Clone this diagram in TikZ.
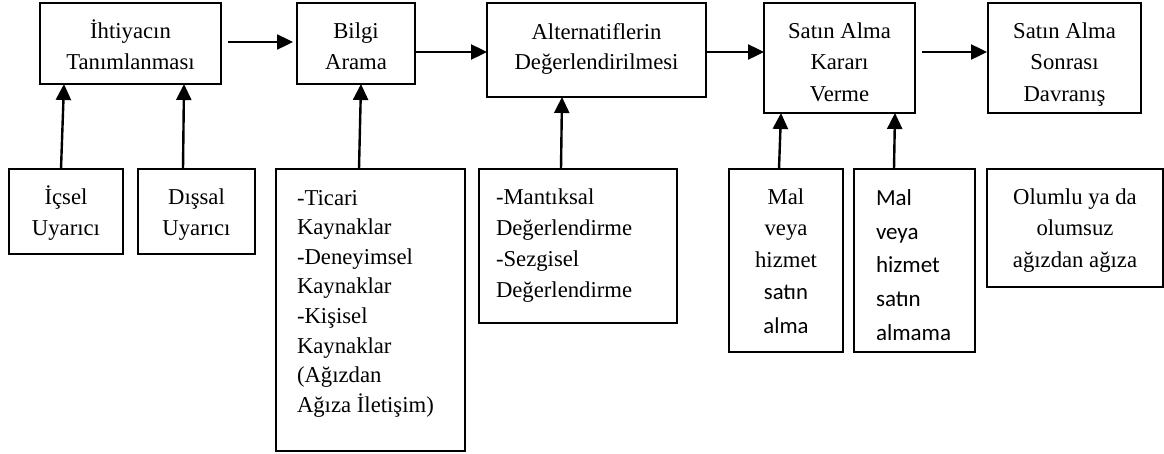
\documentclass[tikz,border=0pt]{standalone}
\usepackage{fontspec}
\setmainfont{Liberation Serif}
\newfontfamily\calibrifont{Carlito}
\usetikzlibrary{arrows.meta}
% strut that fixes the height of the first line of every label
\newcommand\firstln{\rule{0pt}{24pt}}

\begin{document}
\begin{tikzpicture}[x=1pt,y=-1pt,
  box/.style={draw, line width=1.8pt, inner sep=0pt, outer sep=0pt},
  txt/.style={inner sep=0pt, outer sep=0pt, font=\fontsize{22.7}{31.5}\selectfont},
  arr/.style={line width=2.4pt, -{Triangle[length=16pt,width=15pt]}}]
\useasboundingbox (0,0) rectangle (1164,453);

% main stages
\node[box, minimum width=181pt, minimum height=81pt]  (b1) at (130.5,43.5) {};
\node[box, minimum width=118pt, minimum height=81pt]  (b2) at (356,43.5) {};
\node[box, minimum width=219pt, minimum height=94pt]  (b3) at (596.5,50) {};
\node[box, minimum width=151pt, minimum height=110pt] (b4) at (839.5,58) {};
\node[box, minimum width=153pt, minimum height=110pt] (b5) at (1064.5,58) {};

\node[txt, align=center, anchor=north] (t1) at (130.5,14) {\firstln İhtiyacın\\Tanımlanması};
\node[txt, align=center, anchor=north] (t2) at (356,14) {\firstln Bilgi\\Arama};
\node[txt, align=center, anchor=north] (t3) at (596.5,15) {\firstln Alternatiflerin\\[-1.5pt]Değerlendirilmesi};
\node[txt, align=center, anchor=north] (t4) at (839.5,14) {\firstln Satın Alma\\Kararı\\Verme};
\node[txt, align=center, anchor=north] (t5) at (1064.5,14) {\firstln Satın Alma\\Sonrası\\Davranış};

% influencing factors
\node[box, minimum width=114pt, minimum height=85pt]  (ic)  at (66,211.5) {};
\node[box, minimum width=117pt, minimum height=85pt]  (dis) at (196.5,211.5) {};
\node[box, minimum width=189pt, minimum height=282pt] (bk)  at (370.5,310) {};
\node[box, minimum width=198pt, minimum height=154pt] (ma)  at (578,246) {};
\node[box, minimum width=114pt, minimum height=183pt] (m1)  at (786,260.5) {};
\node[box, minimum width=121pt, minimum height=183pt] (m2)  at (914.5,260.5) {};
\node[box, minimum width=176pt, minimum height=118pt] (ol)  at (1075,228) {};

\node[txt, align=center, anchor=north] (tic) at (66,180) {\firstln İçsel\\Uyarıcı};
\node[txt, align=center, anchor=north] (tdis) at (196.5,180) {\firstln Dışsal\\Uyarıcı};
\node[txt, align=left, anchor=north west, font=\fontsize{22.7}{29.6}\selectfont] (tbk) at (297,181)
  {\firstln -Ticari\\Kaynaklar\\-Deneyimsel\\Kaynaklar\\-Kişisel\\Kaynaklar\\(Ağızdan\\Ağıza İletişim)};
\node[txt, align=left, anchor=north west, font=\fontsize{22.7}{31.3}\selectfont] (tma) at (496,180)
  {\firstln -Mantıksal\\Değerlendirme\\-Sezgisel\\Değerlendirme};
\node[txt, align=center, anchor=north, font=\fontsize{22.7}{31.7}\selectfont] (tm1) at (786,180)
  {\firstln Mal\\veya\\hizmet\\{\calibrifont satın}\\[3pt]{\calibrifont alma}};
\node[txt, align=left, anchor=north west, font=\calibrifont\fontsize{23}{33.75}\selectfont] (tm2) at (876,181.3)
  {\firstln Mal\\veya\\hizmet\\satın\\almama};
\node[txt, align=center, anchor=north, font=\fontsize{22.7}{31.7}\selectfont] (tol) at (1075,180)
  {\firstln Olumlu ya da\\olumsuz\\ağızdan ağıza};

% flow between stages
\draw[arr] ([xshift=7pt,yshift=1.5pt]b1.east) -- ([xshift=-4pt,yshift=1.5pt]b2.west);
\draw[arr] ([yshift=-8.5pt]b2.east) -- ([yshift=-2pt]b3.west);
\draw[arr] ([yshift=-2pt]b3.east) -- ([yshift=6pt]b4.west);
\draw[arr] ([xshift=7pt,yshift=6pt]b4.east) -- ([xshift=-1pt,yshift=6pt]b5.west);

% factors feeding the stages
\draw[arr] ([xshift=-5pt]ic.north)   -- ([xshift=-66.5pt]b1.south);
\draw[arr] ([xshift=-13.5pt]dis.north) -- ([xshift=53.5pt]b1.south);
\draw[arr] ([xshift=-11.5pt]bk.north) -- ([xshift=5pt]b2.south);
\draw[arr] ([xshift=-17pt]ma.north)  -- ([xshift=-34.5pt]b3.south);
\draw[arr] ([xshift=-7pt]m1.north)   -- ([xshift=-58.5pt]b4.south);
\draw[arr] ([xshift=-20.5pt]m2.north) -- ([xshift=55.5pt]b4.south);
\end{tikzpicture}
\end{document}
